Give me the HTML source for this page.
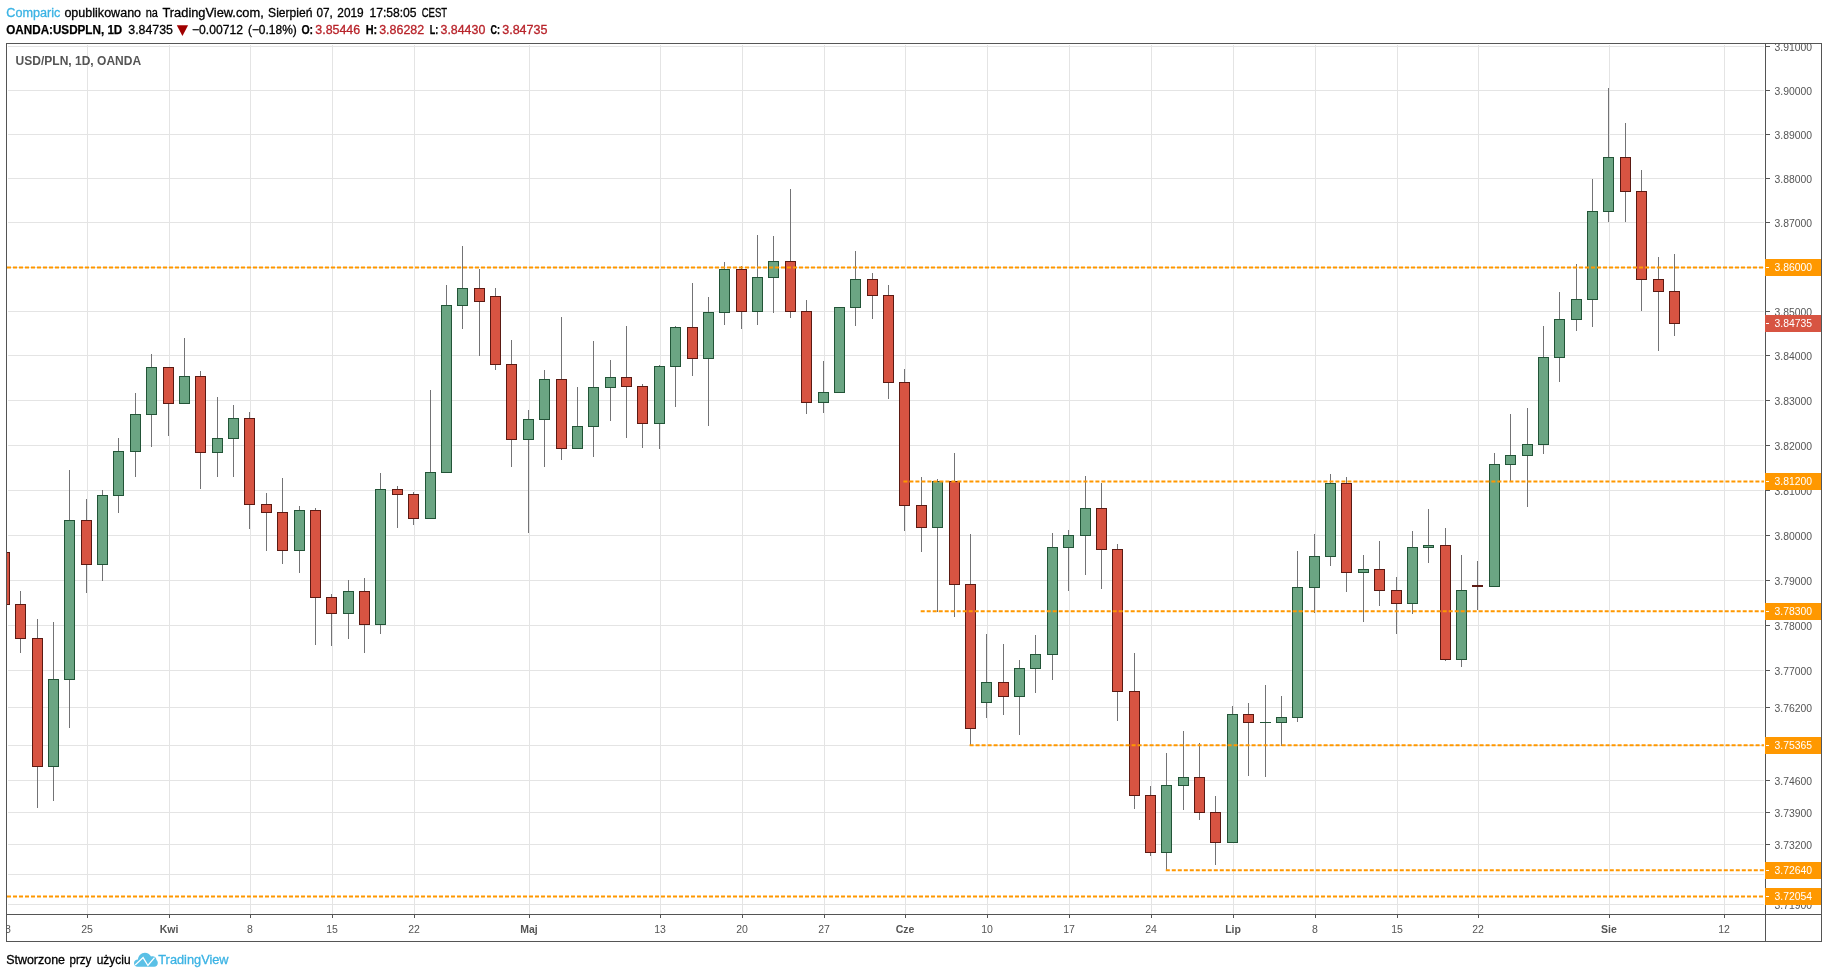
<!DOCTYPE html>
<html lang="pl"><head><meta charset="utf-8"><title>USD/PLN, 1D, OANDA</title>
<style>html,body{margin:0;padding:0;background:#fff}svg{display:block;will-change:transform}text{font-family:"Liberation Sans",sans-serif}.h{font-size:12.45px;fill:#000;stroke:#000;stroke-width:.3px}.b{font-weight:bold}.h.b{font-size:12px;stroke-width:.25px}.pr{font-size:10.4px;fill:#555555}.tm{font-size:10.5px;fill:#555555;text-anchor:middle}.w{fill:#fff}.rd{fill:#b8232a;stroke:#b8232a}.bl{fill:#3bb3e4;stroke:#3bb3e4}</style></head><body>
<svg width="1828" height="978" viewBox="0 0 1828 978">
<rect width="1828" height="978" fill="#fff"/>
<g shape-rendering="crispEdges" stroke="#e4e4e4" stroke-width="1">
<line x1="8" x2="1764" y1="46.5" y2="46.5"/>
<line x1="8" x2="1764" y1="90.5" y2="90.5"/>
<line x1="8" x2="1764" y1="134.5" y2="134.5"/>
<line x1="8" x2="1764" y1="178.5" y2="178.5"/>
<line x1="8" x2="1764" y1="222.5" y2="222.5"/>
<line x1="8" x2="1764" y1="267.5" y2="267.5"/>
<line x1="8" x2="1764" y1="311.5" y2="311.5"/>
<line x1="8" x2="1764" y1="355.5" y2="355.5"/>
<line x1="8" x2="1764" y1="400.5" y2="400.5"/>
<line x1="8" x2="1764" y1="445.5" y2="445.5"/>
<line x1="8" x2="1764" y1="490.5" y2="490.5"/>
<line x1="8" x2="1764" y1="535.5" y2="535.5"/>
<line x1="8" x2="1764" y1="580.5" y2="580.5"/>
<line x1="8" x2="1764" y1="625.5" y2="625.5"/>
<line x1="8" x2="1764" y1="670.5" y2="670.5"/>
<line x1="8" x2="1764" y1="707.5" y2="707.5"/>
<line x1="8" x2="1764" y1="745.5" y2="745.5"/>
<line x1="8" x2="1764" y1="780.5" y2="780.5"/>
<line x1="8" x2="1764" y1="812.5" y2="812.5"/>
<line x1="8" x2="1764" y1="844.5" y2="844.5"/>
<line x1="8" x2="1764" y1="874.5" y2="874.5"/>
<line x1="8" x2="1764" y1="904.5" y2="904.5"/>
<line x1="87.5" x2="87.5" y1="45" y2="914"/>
<line x1="169.5" x2="169.5" y1="45" y2="914"/>
<line x1="250.5" x2="250.5" y1="45" y2="914"/>
<line x1="332.5" x2="332.5" y1="45" y2="914"/>
<line x1="414.5" x2="414.5" y1="45" y2="914"/>
<line x1="529.5" x2="529.5" y1="45" y2="914"/>
<line x1="660.5" x2="660.5" y1="45" y2="914"/>
<line x1="742.5" x2="742.5" y1="45" y2="914"/>
<line x1="824.5" x2="824.5" y1="45" y2="914"/>
<line x1="905.5" x2="905.5" y1="45" y2="914"/>
<line x1="987.5" x2="987.5" y1="45" y2="914"/>
<line x1="1069.5" x2="1069.5" y1="45" y2="914"/>
<line x1="1151.5" x2="1151.5" y1="45" y2="914"/>
<line x1="1233.5" x2="1233.5" y1="45" y2="914"/>
<line x1="1315.5" x2="1315.5" y1="45" y2="914"/>
<line x1="1397.5" x2="1397.5" y1="45" y2="914"/>
<line x1="1478.5" x2="1478.5" y1="45" y2="914"/>
<line x1="1609.5" x2="1609.5" y1="45" y2="914"/>
<line x1="1724.5" x2="1724.5" y1="45" y2="914"/>
</g>
<defs><clipPath id="pc"><rect x="7" y="44" width="1758" height="870"/></clipPath><clipPath id="tc"><rect x="7" y="915" width="1758" height="26"/></clipPath></defs>
<g clip-path="url(#pc)" shape-rendering="crispEdges">
<rect x="-0.5" y="552.5" width="10" height="52" fill="#d75442" stroke="#5b1a13"/>
<rect x="20" y="591" width="1" height="13" fill="#737375"/>
<rect x="20" y="639" width="1" height="14" fill="#737375"/>
<rect x="15.5" y="604.5" width="10" height="34" fill="#d75442" stroke="#5b1a13"/>
<rect x="37" y="619" width="1" height="19" fill="#737375"/>
<rect x="37" y="767" width="1" height="41" fill="#737375"/>
<rect x="32.5" y="638.5" width="10" height="128" fill="#d75442" stroke="#5b1a13"/>
<rect x="53" y="622" width="1" height="57" fill="#737375"/>
<rect x="53" y="767" width="1" height="34" fill="#737375"/>
<rect x="48.5" y="679.5" width="10" height="87" fill="#6ba583" stroke="#225437"/>
<rect x="69" y="470" width="1" height="50" fill="#737375"/>
<rect x="69" y="680" width="1" height="48" fill="#737375"/>
<rect x="64.5" y="520.5" width="10" height="159" fill="#6ba583" stroke="#225437"/>
<rect x="86" y="499" width="1" height="21" fill="#737375"/>
<rect x="86" y="565" width="1" height="28" fill="#737375"/>
<rect x="81.5" y="520.5" width="10" height="44" fill="#d75442" stroke="#5b1a13"/>
<rect x="102" y="490" width="1" height="5" fill="#737375"/>
<rect x="102" y="565" width="1" height="16" fill="#737375"/>
<rect x="97.5" y="495.5" width="10" height="69" fill="#6ba583" stroke="#225437"/>
<rect x="118" y="438" width="1" height="13" fill="#737375"/>
<rect x="118" y="496" width="1" height="17" fill="#737375"/>
<rect x="113.5" y="451.5" width="10" height="44" fill="#6ba583" stroke="#225437"/>
<rect x="135" y="393" width="1" height="21" fill="#737375"/>
<rect x="135" y="452" width="1" height="25" fill="#737375"/>
<rect x="130.5" y="414.5" width="10" height="37" fill="#6ba583" stroke="#225437"/>
<rect x="151" y="354" width="1" height="13" fill="#737375"/>
<rect x="151" y="415" width="1" height="32" fill="#737375"/>
<rect x="146.5" y="367.5" width="10" height="47" fill="#6ba583" stroke="#225437"/>
<rect x="168" y="404" width="1" height="32" fill="#737375"/>
<rect x="163.5" y="367.5" width="10" height="36" fill="#d75442" stroke="#5b1a13"/>
<rect x="184" y="338" width="1" height="38" fill="#737375"/>
<rect x="179.5" y="376.5" width="10" height="27" fill="#6ba583" stroke="#225437"/>
<rect x="200" y="371" width="1" height="5" fill="#737375"/>
<rect x="200" y="453" width="1" height="36" fill="#737375"/>
<rect x="195.5" y="376.5" width="10" height="76" fill="#d75442" stroke="#5b1a13"/>
<rect x="217" y="397" width="1" height="41" fill="#737375"/>
<rect x="217" y="453" width="1" height="24" fill="#737375"/>
<rect x="212.5" y="438.5" width="10" height="14" fill="#6ba583" stroke="#225437"/>
<rect x="233" y="405" width="1" height="13" fill="#737375"/>
<rect x="233" y="439" width="1" height="38" fill="#737375"/>
<rect x="228.5" y="418.5" width="10" height="20" fill="#6ba583" stroke="#225437"/>
<rect x="249" y="412" width="1" height="6" fill="#737375"/>
<rect x="249" y="505" width="1" height="24" fill="#737375"/>
<rect x="244.5" y="418.5" width="10" height="86" fill="#d75442" stroke="#5b1a13"/>
<rect x="266" y="493" width="1" height="11" fill="#737375"/>
<rect x="266" y="513" width="1" height="38" fill="#737375"/>
<rect x="261.5" y="504.5" width="10" height="8" fill="#d75442" stroke="#5b1a13"/>
<rect x="282" y="478" width="1" height="34" fill="#737375"/>
<rect x="282" y="551" width="1" height="13" fill="#737375"/>
<rect x="277.5" y="512.5" width="10" height="38" fill="#d75442" stroke="#5b1a13"/>
<rect x="299" y="506" width="1" height="4" fill="#737375"/>
<rect x="299" y="551" width="1" height="22" fill="#737375"/>
<rect x="294.5" y="510.5" width="10" height="40" fill="#6ba583" stroke="#225437"/>
<rect x="315" y="508" width="1" height="2" fill="#737375"/>
<rect x="315" y="598" width="1" height="47" fill="#737375"/>
<rect x="310.5" y="510.5" width="10" height="87" fill="#d75442" stroke="#5b1a13"/>
<rect x="331" y="594" width="1" height="3" fill="#737375"/>
<rect x="331" y="614" width="1" height="32" fill="#737375"/>
<rect x="326.5" y="597.5" width="10" height="16" fill="#d75442" stroke="#5b1a13"/>
<rect x="348" y="580" width="1" height="11" fill="#737375"/>
<rect x="348" y="614" width="1" height="25" fill="#737375"/>
<rect x="343.5" y="591.5" width="10" height="22" fill="#6ba583" stroke="#225437"/>
<rect x="364" y="578" width="1" height="13" fill="#737375"/>
<rect x="364" y="625" width="1" height="28" fill="#737375"/>
<rect x="359.5" y="591.5" width="10" height="33" fill="#d75442" stroke="#5b1a13"/>
<rect x="380" y="473" width="1" height="16" fill="#737375"/>
<rect x="380" y="625" width="1" height="9" fill="#737375"/>
<rect x="375.5" y="489.5" width="10" height="135" fill="#6ba583" stroke="#225437"/>
<rect x="397" y="486" width="1" height="3" fill="#737375"/>
<rect x="397" y="495" width="1" height="33" fill="#737375"/>
<rect x="392.5" y="489.5" width="10" height="5" fill="#d75442" stroke="#5b1a13"/>
<rect x="413" y="492" width="1" height="2" fill="#737375"/>
<rect x="413" y="519" width="1" height="6" fill="#737375"/>
<rect x="408.5" y="494.5" width="10" height="24" fill="#d75442" stroke="#5b1a13"/>
<rect x="430" y="390" width="1" height="82" fill="#737375"/>
<rect x="425.5" y="472.5" width="10" height="46" fill="#6ba583" stroke="#225437"/>
<rect x="446" y="285" width="1" height="20" fill="#737375"/>
<rect x="441.5" y="305.5" width="10" height="167" fill="#6ba583" stroke="#225437"/>
<rect x="462" y="246" width="1" height="42" fill="#737375"/>
<rect x="462" y="306" width="1" height="23" fill="#737375"/>
<rect x="457.5" y="288.5" width="10" height="17" fill="#6ba583" stroke="#225437"/>
<rect x="479" y="269" width="1" height="19" fill="#737375"/>
<rect x="479" y="302" width="1" height="54" fill="#737375"/>
<rect x="474.5" y="288.5" width="10" height="13" fill="#d75442" stroke="#5b1a13"/>
<rect x="495" y="288" width="1" height="8" fill="#737375"/>
<rect x="495" y="365" width="1" height="5" fill="#737375"/>
<rect x="490.5" y="296.5" width="10" height="68" fill="#d75442" stroke="#5b1a13"/>
<rect x="511" y="340" width="1" height="24" fill="#737375"/>
<rect x="511" y="440" width="1" height="27" fill="#737375"/>
<rect x="506.5" y="364.5" width="10" height="75" fill="#d75442" stroke="#5b1a13"/>
<rect x="528" y="410" width="1" height="9" fill="#737375"/>
<rect x="528" y="440" width="1" height="93" fill="#737375"/>
<rect x="523.5" y="419.5" width="10" height="20" fill="#6ba583" stroke="#225437"/>
<rect x="544" y="370" width="1" height="9" fill="#737375"/>
<rect x="544" y="420" width="1" height="47" fill="#737375"/>
<rect x="539.5" y="379.5" width="10" height="40" fill="#6ba583" stroke="#225437"/>
<rect x="561" y="317" width="1" height="62" fill="#737375"/>
<rect x="561" y="449" width="1" height="11" fill="#737375"/>
<rect x="556.5" y="379.5" width="10" height="69" fill="#d75442" stroke="#5b1a13"/>
<rect x="577" y="387" width="1" height="39" fill="#737375"/>
<rect x="572.5" y="426.5" width="10" height="22" fill="#6ba583" stroke="#225437"/>
<rect x="593" y="341" width="1" height="46" fill="#737375"/>
<rect x="593" y="427" width="1" height="30" fill="#737375"/>
<rect x="588.5" y="387.5" width="10" height="39" fill="#6ba583" stroke="#225437"/>
<rect x="610" y="360" width="1" height="17" fill="#737375"/>
<rect x="610" y="388" width="1" height="33" fill="#737375"/>
<rect x="605.5" y="377.5" width="10" height="10" fill="#6ba583" stroke="#225437"/>
<rect x="626" y="326" width="1" height="51" fill="#737375"/>
<rect x="626" y="387" width="1" height="51" fill="#737375"/>
<rect x="621.5" y="377.5" width="10" height="9" fill="#d75442" stroke="#5b1a13"/>
<rect x="642" y="384" width="1" height="2" fill="#737375"/>
<rect x="642" y="424" width="1" height="24" fill="#737375"/>
<rect x="637.5" y="386.5" width="10" height="37" fill="#d75442" stroke="#5b1a13"/>
<rect x="659" y="365" width="1" height="1" fill="#737375"/>
<rect x="659" y="424" width="1" height="25" fill="#737375"/>
<rect x="654.5" y="366.5" width="10" height="57" fill="#6ba583" stroke="#225437"/>
<rect x="675" y="326" width="1" height="1" fill="#737375"/>
<rect x="675" y="367" width="1" height="40" fill="#737375"/>
<rect x="670.5" y="327.5" width="10" height="39" fill="#6ba583" stroke="#225437"/>
<rect x="692" y="283" width="1" height="44" fill="#737375"/>
<rect x="692" y="359" width="1" height="17" fill="#737375"/>
<rect x="687.5" y="327.5" width="10" height="31" fill="#d75442" stroke="#5b1a13"/>
<rect x="708" y="297" width="1" height="15" fill="#737375"/>
<rect x="708" y="359" width="1" height="67" fill="#737375"/>
<rect x="703.5" y="312.5" width="10" height="46" fill="#6ba583" stroke="#225437"/>
<rect x="724" y="262" width="1" height="7" fill="#737375"/>
<rect x="724" y="313" width="1" height="12" fill="#737375"/>
<rect x="719.5" y="269.5" width="10" height="43" fill="#6ba583" stroke="#225437"/>
<rect x="741" y="266" width="1" height="3" fill="#737375"/>
<rect x="741" y="312" width="1" height="17" fill="#737375"/>
<rect x="736.5" y="269.5" width="10" height="42" fill="#d75442" stroke="#5b1a13"/>
<rect x="757" y="235" width="1" height="42" fill="#737375"/>
<rect x="757" y="312" width="1" height="13" fill="#737375"/>
<rect x="752.5" y="277.5" width="10" height="34" fill="#6ba583" stroke="#225437"/>
<rect x="773" y="236" width="1" height="25" fill="#737375"/>
<rect x="773" y="278" width="1" height="35" fill="#737375"/>
<rect x="768.5" y="261.5" width="10" height="16" fill="#6ba583" stroke="#225437"/>
<rect x="790" y="189" width="1" height="72" fill="#737375"/>
<rect x="790" y="312" width="1" height="6" fill="#737375"/>
<rect x="785.5" y="261.5" width="10" height="50" fill="#d75442" stroke="#5b1a13"/>
<rect x="806" y="300" width="1" height="11" fill="#737375"/>
<rect x="806" y="403" width="1" height="11" fill="#737375"/>
<rect x="801.5" y="311.5" width="10" height="91" fill="#d75442" stroke="#5b1a13"/>
<rect x="823" y="361" width="1" height="31" fill="#737375"/>
<rect x="823" y="403" width="1" height="10" fill="#737375"/>
<rect x="818.5" y="392.5" width="10" height="10" fill="#6ba583" stroke="#225437"/>
<rect x="834.5" y="307.5" width="10" height="85" fill="#6ba583" stroke="#225437"/>
<rect x="855" y="251" width="1" height="28" fill="#737375"/>
<rect x="855" y="308" width="1" height="18" fill="#737375"/>
<rect x="850.5" y="279.5" width="10" height="28" fill="#6ba583" stroke="#225437"/>
<rect x="872" y="273" width="1" height="6" fill="#737375"/>
<rect x="872" y="296" width="1" height="23" fill="#737375"/>
<rect x="867.5" y="279.5" width="10" height="16" fill="#d75442" stroke="#5b1a13"/>
<rect x="888" y="285" width="1" height="10" fill="#737375"/>
<rect x="888" y="383" width="1" height="16" fill="#737375"/>
<rect x="883.5" y="295.5" width="10" height="87" fill="#d75442" stroke="#5b1a13"/>
<rect x="904" y="369" width="1" height="13" fill="#737375"/>
<rect x="904" y="506" width="1" height="25" fill="#737375"/>
<rect x="899.5" y="382.5" width="10" height="123" fill="#d75442" stroke="#5b1a13"/>
<rect x="921" y="477" width="1" height="28" fill="#737375"/>
<rect x="921" y="528" width="1" height="24" fill="#737375"/>
<rect x="916.5" y="505.5" width="10" height="22" fill="#d75442" stroke="#5b1a13"/>
<rect x="937" y="479" width="1" height="2" fill="#737375"/>
<rect x="937" y="528" width="1" height="84" fill="#737375"/>
<rect x="932.5" y="481.5" width="10" height="46" fill="#6ba583" stroke="#225437"/>
<rect x="954" y="453" width="1" height="28" fill="#737375"/>
<rect x="954" y="585" width="1" height="32" fill="#737375"/>
<rect x="949.5" y="481.5" width="10" height="103" fill="#d75442" stroke="#5b1a13"/>
<rect x="970" y="534" width="1" height="50" fill="#737375"/>
<rect x="970" y="729" width="1" height="16" fill="#737375"/>
<rect x="965.5" y="584.5" width="10" height="144" fill="#d75442" stroke="#5b1a13"/>
<rect x="986" y="634" width="1" height="48" fill="#737375"/>
<rect x="986" y="703" width="1" height="15" fill="#737375"/>
<rect x="981.5" y="682.5" width="10" height="20" fill="#6ba583" stroke="#225437"/>
<rect x="1003" y="644" width="1" height="38" fill="#737375"/>
<rect x="1003" y="697" width="1" height="18" fill="#737375"/>
<rect x="998.5" y="682.5" width="10" height="14" fill="#d75442" stroke="#5b1a13"/>
<rect x="1019" y="660" width="1" height="8" fill="#737375"/>
<rect x="1019" y="697" width="1" height="38" fill="#737375"/>
<rect x="1014.5" y="668.5" width="10" height="28" fill="#6ba583" stroke="#225437"/>
<rect x="1035" y="635" width="1" height="19" fill="#737375"/>
<rect x="1035" y="669" width="1" height="24" fill="#737375"/>
<rect x="1030.5" y="654.5" width="10" height="14" fill="#6ba583" stroke="#225437"/>
<rect x="1052" y="533" width="1" height="14" fill="#737375"/>
<rect x="1052" y="655" width="1" height="25" fill="#737375"/>
<rect x="1047.5" y="547.5" width="10" height="107" fill="#6ba583" stroke="#225437"/>
<rect x="1068" y="530" width="1" height="5" fill="#737375"/>
<rect x="1068" y="548" width="1" height="43" fill="#737375"/>
<rect x="1063.5" y="535.5" width="10" height="12" fill="#6ba583" stroke="#225437"/>
<rect x="1085" y="476" width="1" height="32" fill="#737375"/>
<rect x="1085" y="536" width="1" height="39" fill="#737375"/>
<rect x="1080.5" y="508.5" width="10" height="27" fill="#6ba583" stroke="#225437"/>
<rect x="1101" y="483" width="1" height="25" fill="#737375"/>
<rect x="1101" y="550" width="1" height="39" fill="#737375"/>
<rect x="1096.5" y="508.5" width="10" height="41" fill="#d75442" stroke="#5b1a13"/>
<rect x="1117" y="544" width="1" height="5" fill="#737375"/>
<rect x="1117" y="692" width="1" height="29" fill="#737375"/>
<rect x="1112.5" y="549.5" width="10" height="142" fill="#d75442" stroke="#5b1a13"/>
<rect x="1134" y="653" width="1" height="38" fill="#737375"/>
<rect x="1134" y="796" width="1" height="13" fill="#737375"/>
<rect x="1129.5" y="691.5" width="10" height="104" fill="#d75442" stroke="#5b1a13"/>
<rect x="1150" y="786" width="1" height="9" fill="#737375"/>
<rect x="1150" y="853" width="1" height="3" fill="#737375"/>
<rect x="1145.5" y="795.5" width="10" height="57" fill="#d75442" stroke="#5b1a13"/>
<rect x="1166" y="753" width="1" height="32" fill="#737375"/>
<rect x="1166" y="853" width="1" height="17" fill="#737375"/>
<rect x="1161.5" y="785.5" width="10" height="67" fill="#6ba583" stroke="#225437"/>
<rect x="1183" y="731" width="1" height="46" fill="#737375"/>
<rect x="1183" y="786" width="1" height="24" fill="#737375"/>
<rect x="1178.5" y="777.5" width="10" height="8" fill="#6ba583" stroke="#225437"/>
<rect x="1199" y="743" width="1" height="34" fill="#737375"/>
<rect x="1199" y="813" width="1" height="7" fill="#737375"/>
<rect x="1194.5" y="777.5" width="10" height="35" fill="#d75442" stroke="#5b1a13"/>
<rect x="1215" y="796" width="1" height="16" fill="#737375"/>
<rect x="1215" y="843" width="1" height="22" fill="#737375"/>
<rect x="1210.5" y="812.5" width="10" height="30" fill="#d75442" stroke="#5b1a13"/>
<rect x="1232" y="706" width="1" height="8" fill="#737375"/>
<rect x="1227.5" y="714.5" width="10" height="128" fill="#6ba583" stroke="#225437"/>
<rect x="1248" y="703" width="1" height="11" fill="#737375"/>
<rect x="1248" y="723" width="1" height="53" fill="#737375"/>
<rect x="1243.5" y="714.5" width="10" height="8" fill="#d75442" stroke="#5b1a13"/>
<rect x="1265" y="685" width="1" height="37" fill="#737375"/>
<rect x="1265" y="723" width="1" height="54" fill="#737375"/>
<rect x="1260" y="722" width="11" height="1" fill="#225437"/>
<rect x="1281" y="696" width="1" height="21" fill="#737375"/>
<rect x="1281" y="723" width="1" height="23" fill="#737375"/>
<rect x="1276.5" y="717.5" width="10" height="5" fill="#6ba583" stroke="#225437"/>
<rect x="1297" y="551" width="1" height="36" fill="#737375"/>
<rect x="1297" y="718" width="1" height="4" fill="#737375"/>
<rect x="1292.5" y="587.5" width="10" height="130" fill="#6ba583" stroke="#225437"/>
<rect x="1314" y="534" width="1" height="22" fill="#737375"/>
<rect x="1314" y="588" width="1" height="25" fill="#737375"/>
<rect x="1309.5" y="556.5" width="10" height="31" fill="#6ba583" stroke="#225437"/>
<rect x="1330" y="474" width="1" height="9" fill="#737375"/>
<rect x="1330" y="557" width="1" height="9" fill="#737375"/>
<rect x="1325.5" y="483.5" width="10" height="73" fill="#6ba583" stroke="#225437"/>
<rect x="1346" y="477" width="1" height="6" fill="#737375"/>
<rect x="1346" y="573" width="1" height="19" fill="#737375"/>
<rect x="1341.5" y="483.5" width="10" height="89" fill="#d75442" stroke="#5b1a13"/>
<rect x="1363" y="555" width="1" height="14" fill="#737375"/>
<rect x="1363" y="573" width="1" height="49" fill="#737375"/>
<rect x="1358.5" y="569.5" width="10" height="3" fill="#6ba583" stroke="#225437"/>
<rect x="1379" y="541" width="1" height="28" fill="#737375"/>
<rect x="1379" y="591" width="1" height="15" fill="#737375"/>
<rect x="1374.5" y="569.5" width="10" height="21" fill="#d75442" stroke="#5b1a13"/>
<rect x="1396" y="577" width="1" height="13" fill="#737375"/>
<rect x="1396" y="604" width="1" height="30" fill="#737375"/>
<rect x="1391.5" y="590.5" width="10" height="13" fill="#d75442" stroke="#5b1a13"/>
<rect x="1412" y="531" width="1" height="16" fill="#737375"/>
<rect x="1412" y="604" width="1" height="10" fill="#737375"/>
<rect x="1407.5" y="547.5" width="10" height="56" fill="#6ba583" stroke="#225437"/>
<rect x="1428" y="509" width="1" height="36" fill="#737375"/>
<rect x="1428" y="548" width="1" height="15" fill="#737375"/>
<rect x="1423.5" y="545.5" width="10" height="2" fill="#6ba583" stroke="#225437"/>
<rect x="1445" y="528" width="1" height="17" fill="#737375"/>
<rect x="1445" y="660" width="1" height="1" fill="#737375"/>
<rect x="1440.5" y="545.5" width="10" height="114" fill="#d75442" stroke="#5b1a13"/>
<rect x="1461" y="555" width="1" height="35" fill="#737375"/>
<rect x="1461" y="660" width="1" height="7" fill="#737375"/>
<rect x="1456.5" y="590.5" width="10" height="69" fill="#6ba583" stroke="#225437"/>
<rect x="1477" y="561" width="1" height="24" fill="#737375"/>
<rect x="1477" y="587" width="1" height="23" fill="#737375"/>
<rect x="1472" y="585" width="11" height="2" fill="#5b1a13"/>
<rect x="1494" y="453" width="1" height="11" fill="#737375"/>
<rect x="1489.5" y="464.5" width="10" height="122" fill="#6ba583" stroke="#225437"/>
<rect x="1510" y="414" width="1" height="41" fill="#737375"/>
<rect x="1510" y="465" width="1" height="16" fill="#737375"/>
<rect x="1505.5" y="455.5" width="10" height="9" fill="#6ba583" stroke="#225437"/>
<rect x="1527" y="408" width="1" height="36" fill="#737375"/>
<rect x="1527" y="456" width="1" height="51" fill="#737375"/>
<rect x="1522.5" y="444.5" width="10" height="11" fill="#6ba583" stroke="#225437"/>
<rect x="1543" y="326" width="1" height="31" fill="#737375"/>
<rect x="1543" y="445" width="1" height="9" fill="#737375"/>
<rect x="1538.5" y="357.5" width="10" height="87" fill="#6ba583" stroke="#225437"/>
<rect x="1559" y="292" width="1" height="27" fill="#737375"/>
<rect x="1559" y="358" width="1" height="24" fill="#737375"/>
<rect x="1554.5" y="319.5" width="10" height="38" fill="#6ba583" stroke="#225437"/>
<rect x="1576" y="264" width="1" height="35" fill="#737375"/>
<rect x="1576" y="320" width="1" height="11" fill="#737375"/>
<rect x="1571.5" y="299.5" width="10" height="20" fill="#6ba583" stroke="#225437"/>
<rect x="1592" y="179" width="1" height="32" fill="#737375"/>
<rect x="1592" y="300" width="1" height="27" fill="#737375"/>
<rect x="1587.5" y="211.5" width="10" height="88" fill="#6ba583" stroke="#225437"/>
<rect x="1608" y="88" width="1" height="69" fill="#737375"/>
<rect x="1608" y="212" width="1" height="10" fill="#737375"/>
<rect x="1603.5" y="157.5" width="10" height="54" fill="#6ba583" stroke="#225437"/>
<rect x="1625" y="123" width="1" height="34" fill="#737375"/>
<rect x="1625" y="192" width="1" height="30" fill="#737375"/>
<rect x="1620.5" y="157.5" width="10" height="34" fill="#d75442" stroke="#5b1a13"/>
<rect x="1641" y="170" width="1" height="21" fill="#737375"/>
<rect x="1641" y="280" width="1" height="31" fill="#737375"/>
<rect x="1636.5" y="191.5" width="10" height="88" fill="#d75442" stroke="#5b1a13"/>
<rect x="1658" y="257" width="1" height="22" fill="#737375"/>
<rect x="1658" y="292" width="1" height="59" fill="#737375"/>
<rect x="1653.5" y="279.5" width="10" height="12" fill="#d75442" stroke="#5b1a13"/>
<rect x="1674" y="254" width="1" height="37" fill="#737375"/>
<rect x="1674" y="324" width="1" height="12" fill="#737375"/>
<rect x="1669.5" y="291.5" width="10" height="32" fill="#d75442" stroke="#5b1a13"/>
</g>
<line x1="7.0" x2="1764" y1="267.4" y2="267.4" stroke="#ff9800" stroke-width="2" stroke-dasharray="4 2"/>
<line x1="903.4" x2="1764" y1="481.4" y2="481.4" stroke="#ff9800" stroke-width="2" stroke-dasharray="4 2"/>
<line x1="920.7" x2="1764" y1="611.3" y2="611.3" stroke="#ff9800" stroke-width="2" stroke-dasharray="4 2"/>
<line x1="969.6" x2="1764" y1="745.2" y2="745.2" stroke="#ff9800" stroke-width="2" stroke-dasharray="4 2"/>
<line x1="1165.8" x2="1764" y1="870.3" y2="870.3" stroke="#ff9800" stroke-width="2" stroke-dasharray="4 2"/>
<line x1="7.0" x2="1764" y1="896.5" y2="896.5" stroke="#ff9800" stroke-width="2" stroke-dasharray="4 2"/>
<g shape-rendering="crispEdges" fill="#555555">
<rect x="6" y="43" width="1816" height="1"/>
<rect x="6" y="941" width="1816" height="1"/>
<rect x="6" y="43" width="1" height="899"/>
<rect x="1821" y="43" width="1" height="899"/>
<rect x="1765" y="43" width="1" height="899"/>
<rect x="6" y="914" width="1816" height="1"/>
<rect x="1766" y="46" width="4" height="1"/>
<rect x="1766" y="90" width="4" height="1"/>
<rect x="1766" y="134" width="4" height="1"/>
<rect x="1766" y="178" width="4" height="1"/>
<rect x="1766" y="222" width="4" height="1"/>
<rect x="1766" y="311" width="4" height="1"/>
<rect x="1766" y="355" width="4" height="1"/>
<rect x="1766" y="400" width="4" height="1"/>
<rect x="1766" y="445" width="4" height="1"/>
<rect x="1766" y="490" width="4" height="1"/>
<rect x="1766" y="535" width="4" height="1"/>
<rect x="1766" y="580" width="4" height="1"/>
<rect x="1766" y="625" width="4" height="1"/>
<rect x="1766" y="670" width="4" height="1"/>
<rect x="1766" y="707" width="4" height="1"/>
<rect x="1766" y="780" width="4" height="1"/>
<rect x="1766" y="812" width="4" height="1"/>
<rect x="1766" y="844" width="4" height="1"/>
<rect x="1766" y="904" width="4" height="1"/>
<rect x="87" y="915" width="1" height="3"/>
<rect x="169" y="915" width="1" height="3"/>
<rect x="250" y="915" width="1" height="3"/>
<rect x="332" y="915" width="1" height="3"/>
<rect x="414" y="915" width="1" height="3"/>
<rect x="529" y="915" width="1" height="3"/>
<rect x="660" y="915" width="1" height="3"/>
<rect x="742" y="915" width="1" height="3"/>
<rect x="824" y="915" width="1" height="3"/>
<rect x="905" y="915" width="1" height="3"/>
<rect x="987" y="915" width="1" height="3"/>
<rect x="1069" y="915" width="1" height="3"/>
<rect x="1151" y="915" width="1" height="3"/>
<rect x="1233" y="915" width="1" height="3"/>
<rect x="1315" y="915" width="1" height="3"/>
<rect x="1397" y="915" width="1" height="3"/>
<rect x="1478" y="915" width="1" height="3"/>
<rect x="1609" y="915" width="1" height="3"/>
<rect x="1724" y="915" width="1" height="3"/>
</g>
<text class="pr" x="1774.5" y="50.8" textLength="37.5" lengthAdjust="spacingAndGlyphs">3.91000</text>
<text class="pr" x="1774.5" y="94.8" textLength="37.5" lengthAdjust="spacingAndGlyphs">3.90000</text>
<text class="pr" x="1774.5" y="138.8" textLength="37.5" lengthAdjust="spacingAndGlyphs">3.89000</text>
<text class="pr" x="1774.5" y="182.8" textLength="37.5" lengthAdjust="spacingAndGlyphs">3.88000</text>
<text class="pr" x="1774.5" y="226.8" textLength="37.5" lengthAdjust="spacingAndGlyphs">3.87000</text>
<text class="pr" x="1774.5" y="315.8" textLength="37.5" lengthAdjust="spacingAndGlyphs">3.85000</text>
<text class="pr" x="1774.5" y="359.8" textLength="37.5" lengthAdjust="spacingAndGlyphs">3.84000</text>
<text class="pr" x="1774.5" y="404.8" textLength="37.5" lengthAdjust="spacingAndGlyphs">3.83000</text>
<text class="pr" x="1774.5" y="449.8" textLength="37.5" lengthAdjust="spacingAndGlyphs">3.82000</text>
<text class="pr" x="1774.5" y="494.8" textLength="37.5" lengthAdjust="spacingAndGlyphs">3.81000</text>
<text class="pr" x="1774.5" y="539.8" textLength="37.5" lengthAdjust="spacingAndGlyphs">3.80000</text>
<text class="pr" x="1774.5" y="584.8" textLength="37.5" lengthAdjust="spacingAndGlyphs">3.79000</text>
<text class="pr" x="1774.5" y="629.8" textLength="37.5" lengthAdjust="spacingAndGlyphs">3.78000</text>
<text class="pr" x="1774.5" y="674.8" textLength="37.5" lengthAdjust="spacingAndGlyphs">3.77000</text>
<text class="pr" x="1774.5" y="711.8" textLength="37.5" lengthAdjust="spacingAndGlyphs">3.76200</text>
<text class="pr" x="1774.5" y="784.8" textLength="37.5" lengthAdjust="spacingAndGlyphs">3.74600</text>
<text class="pr" x="1774.5" y="816.8" textLength="37.5" lengthAdjust="spacingAndGlyphs">3.73900</text>
<text class="pr" x="1774.5" y="848.8" textLength="37.5" lengthAdjust="spacingAndGlyphs">3.73200</text>
<text class="pr" x="1774.5" y="908.8" textLength="37.5" lengthAdjust="spacingAndGlyphs">3.71900</text>
<rect x="1770" y="30" width="50" height="13" fill="#fff"/>
<rect x="1765" y="259" width="56" height="17" fill="#ff9800" shape-rendering="crispEdges"/>
<rect x="1766" y="267" width="3" height="1" fill="#fff" shape-rendering="crispEdges"/>
<text class="pr w" x="1774.5" y="270.9" textLength="37.5" lengthAdjust="spacingAndGlyphs">3.86000</text>
<rect x="1765" y="473" width="56" height="17" fill="#ff9800" shape-rendering="crispEdges"/>
<rect x="1766" y="481" width="3" height="1" fill="#fff" shape-rendering="crispEdges"/>
<text class="pr w" x="1774.5" y="484.9" textLength="37.5" lengthAdjust="spacingAndGlyphs">3.81200</text>
<rect x="1765" y="603" width="56" height="17" fill="#ff9800" shape-rendering="crispEdges"/>
<rect x="1766" y="611" width="3" height="1" fill="#fff" shape-rendering="crispEdges"/>
<text class="pr w" x="1774.5" y="614.9" textLength="37.5" lengthAdjust="spacingAndGlyphs">3.78300</text>
<rect x="1765" y="737" width="56" height="17" fill="#ff9800" shape-rendering="crispEdges"/>
<rect x="1766" y="745" width="3" height="1" fill="#fff" shape-rendering="crispEdges"/>
<text class="pr w" x="1774.5" y="748.9" textLength="37.5" lengthAdjust="spacingAndGlyphs">3.75365</text>
<rect x="1765" y="862" width="56" height="17" fill="#ff9800" shape-rendering="crispEdges"/>
<rect x="1766" y="870" width="3" height="1" fill="#fff" shape-rendering="crispEdges"/>
<text class="pr w" x="1774.5" y="873.9" textLength="37.5" lengthAdjust="spacingAndGlyphs">3.72640</text>
<rect x="1765" y="888" width="56" height="17" fill="#ff9800" shape-rendering="crispEdges"/>
<rect x="1766" y="896" width="3" height="1" fill="#fff" shape-rendering="crispEdges"/>
<text class="pr w" x="1774.5" y="899.9" textLength="37.5" lengthAdjust="spacingAndGlyphs">3.72054</text>
<rect x="1765" y="315" width="56" height="17" fill="#d75442" shape-rendering="crispEdges"/>
<rect x="1766" y="323" width="3" height="1" fill="#fff" shape-rendering="crispEdges"/>
<text class="pr w" x="1774.5" y="326.9" textLength="37.5" lengthAdjust="spacingAndGlyphs">3.84735</text>
<g clip-path="url(#tc)">
<text class="tm" x="5.0" y="933">18</text>
<text class="tm" x="87.0" y="933">25</text>
<text class="tm b" x="169.0" y="933">Kwi</text>
<text class="tm" x="250.0" y="933">8</text>
<text class="tm" x="332.0" y="933">15</text>
<text class="tm" x="414.0" y="933">22</text>
<text class="tm b" x="529.0" y="933">Maj</text>
<text class="tm" x="660.0" y="933">13</text>
<text class="tm" x="742.0" y="933">20</text>
<text class="tm" x="824.0" y="933">27</text>
<text class="tm b" x="905.0" y="933">Cze</text>
<text class="tm" x="987.0" y="933">10</text>
<text class="tm" x="1069.0" y="933">17</text>
<text class="tm" x="1151.0" y="933">24</text>
<text class="tm b" x="1233.0" y="933">Lip</text>
<text class="tm" x="1315.0" y="933">8</text>
<text class="tm" x="1397.0" y="933">15</text>
<text class="tm" x="1478.0" y="933">22</text>
<text class="tm b" x="1609.0" y="933">Sie</text>
<text class="tm" x="1724.0" y="933">12</text>
</g>
<text x="15.6" y="64.9" textLength="125.5" lengthAdjust="spacingAndGlyphs" style="font-size:12.2px;font-weight:bold;fill:#555">USD/PLN, 1D, OANDA</text>
<text class="h bl" x="6.3" y="16.9" textLength="54.1" lengthAdjust="spacingAndGlyphs">Comparic</text>
<text class="h " x="64.4" y="16.9" textLength="76.7" lengthAdjust="spacingAndGlyphs">opublikowano</text>
<text class="h " x="145.7" y="16.9" textLength="12.2" lengthAdjust="spacingAndGlyphs">na</text>
<text class="h " x="162.5" y="16.9" textLength="101.2" lengthAdjust="spacingAndGlyphs">TradingView.com,</text>
<text class="h " x="268.1" y="16.9" textLength="44.3" lengthAdjust="spacingAndGlyphs">Sierpień</text>
<text class="h " x="316.5" y="16.9" textLength="16.4" lengthAdjust="spacingAndGlyphs">07,</text>
<text class="h " x="337.3" y="16.9" textLength="26.4" lengthAdjust="spacingAndGlyphs">2019</text>
<text class="h " x="369.4" y="16.9" textLength="47.2" lengthAdjust="spacingAndGlyphs">17:58:05</text>
<text class="h " x="421.7" y="16.9" textLength="25.5" lengthAdjust="spacingAndGlyphs">CEST</text>
<text class="h b" x="6.3" y="34.1" textLength="116.0" lengthAdjust="spacingAndGlyphs">OANDA:USDPLN, 1D</text>
<text class="h " x="128.3" y="34.1" textLength="44.7" lengthAdjust="spacingAndGlyphs">3.84735</text>
<path d="M176.8 25.3 L188.1 25.3 L182.45 35.9 Z" fill="#a00000"/>
<text class="h " x="192.0" y="34.1" textLength="50.9" lengthAdjust="spacingAndGlyphs">−0.00712</text>
<text class="h " x="247.9" y="34.1" textLength="48.9" lengthAdjust="spacingAndGlyphs">(−0.18%)</text>
<text class="h b" x="301.4" y="34.1" textLength="11.7" lengthAdjust="spacingAndGlyphs">O:</text>
<text class="h rd" x="315.3" y="34.1" textLength="44.9" lengthAdjust="spacingAndGlyphs">3.85446</text>
<text class="h b" x="365.7" y="34.1" textLength="11.5" lengthAdjust="spacingAndGlyphs">H:</text>
<text class="h rd" x="379.2" y="34.1" textLength="45.0" lengthAdjust="spacingAndGlyphs">3.86282</text>
<text class="h b" x="429.8" y="34.1" textLength="8.5" lengthAdjust="spacingAndGlyphs">L:</text>
<text class="h rd" x="440.5" y="34.1" textLength="44.8" lengthAdjust="spacingAndGlyphs">3.84430</text>
<text class="h b" x="490.5" y="34.1" textLength="9.5" lengthAdjust="spacingAndGlyphs">C:</text>
<text class="h rd" x="502.2" y="34.1" textLength="45.3" lengthAdjust="spacingAndGlyphs">3.84735</text>
<text class="h " x="6.2" y="963.9" textLength="58.8" lengthAdjust="spacingAndGlyphs">Stworzone</text>
<text class="h " x="69.5" y="963.9" textLength="21.9" lengthAdjust="spacingAndGlyphs">przy</text>
<text class="h " x="96.7" y="963.9" textLength="33.9" lengthAdjust="spacingAndGlyphs">użyciu</text>
<g transform="translate(134,952.7)"><path d="M3.6 14.1 C1.4 14.1 0 12.4 0 10.5 C0 8.6 1.3 7.1 3.2 6.9 C3.4 6.9 3.7 6.9 3.9 7 C4.2 3.2 7.1 0 10.9 0 C13.6 0 15.9 1.6 17 3.9 C17.5 3.7 18 3.6 18.6 3.6 C20.7 3.6 22.4 5.2 22.5 7.3 C23.3 7.9 23.8 9 23.8 10.3 C23.8 12.4 22.2 14.1 20.2 14.1 Z" fill="#5ac0e6"/><path d="M1.2 12.2 L9.1 4.9 L13.9 12.8 L20.5 4.9" fill="none" stroke="#fff" stroke-width="1.3" stroke-linejoin="miter"/></g>
<text class="h bl" x="158.3" y="963.9" textLength="70.3" lengthAdjust="spacingAndGlyphs">TradingView</text>
</svg></body></html>
